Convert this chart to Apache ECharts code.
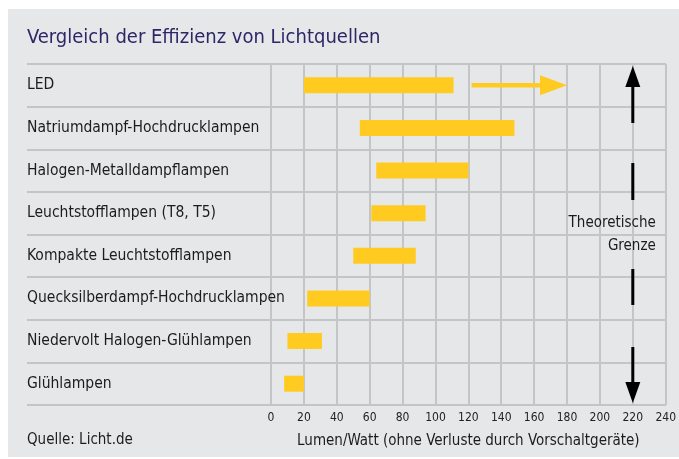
<!DOCTYPE html>
<html>
<head>
<meta charset="utf-8">
<script src="https://cdn.jsdelivr.net/npm/echarts@6/dist/echarts.min.js"></script>
<style>
  html, body { margin: 0; padding: 0; background: #ffffff; }
  #panel { position: absolute; left: 8px; top: 9px; width: 671px; height: 448px; background: #e6e7e9; }
  #chart { position: absolute; left: 0; top: 0; width: 679px; height: 459px; }
</style>
</head>
<body>
<div id="panel"></div>
<div id="chart"></div>
<script>
// ---- data ----
const categories = [
  'LED',
  'Natriumdampf-Hochdrucklampen',
  'Halogen-Metalldampflampen',
  'Leuchtstofflampen (T8, T5)',
  'Kompakte Leuchtstofflampen',
  'Quecksilberdampf-Hochdrucklampen',
  'Niedervolt Halogen-Glühlampen',
  'Glühlampen'
];
const lowValues  = [20, 54, 64, 61, 50, 22, 10, 8];
const highValues = [111, 148, 120, 94, 88, 60, 31, 20];
const ledTrend = [122, 180];          // LED arrow: from, to (lm/W)
const theoreticalLimit = 220;         // lm/W
const limitLabel = 'Theoretische\nGrenze';
const xMin = 0, xMax = 240, xStep = 20;
const titleText = 'Vergleich der Effizienz von Lichtquellen';
const sourceText = 'Quelle: Licht.de';
const axisName = 'Lumen/Watt (ohne Verluste durch Vorschaltgeräte)';

const lengths = highValues.map((h, i) => h - lowValues[i]);

const FONT = '"DejaVu Sans Condensed", "DejaVu Sans", sans-serif';
const YELLOW = '#ffcb21';
const GRIDC = '#c4c5c7';

const chart = echarts.init(document.getElementById('chart'), null, { renderer: 'canvas' });

chart.setOption({
  backgroundColor: 'transparent',
  animation: false,
  graphic: [
    { type: 'text', x: 27, y: 38, style: { text: titleText, font: '20px ' + FONT, fill: '#2b2868', align: 'left', verticalAlign: 'middle' } },
    { type: 'text', x: 27, y: 440, style: { text: sourceText, font: '15px ' + FONT, fill: '#1c1c1c', align: 'left', verticalAlign: 'middle' } }
  ],
  grid: [
    { left: 271, right: 13, top: 64, bottom: 54 },
    { left: 27, right: 13, top: 64, bottom: 54 }
  ],
  xAxis: [
    {
      gridIndex: 0, type: 'value', min: xMin, max: xMax, interval: xStep,
      axisLine: { show: false }, axisTick: { show: false },
      splitLine: { show: true, lineStyle: { color: GRIDC, width: 2 } },
      axisLabel: { margin: 7, fontSize: 12, fontFamily: FONT, color: '#222' },
      name: axisName, nameLocation: 'middle', nameGap: 29,
      nameTextStyle: { fontSize: 15, fontFamily: FONT, color: '#1c1c1c' }
    },
    { gridIndex: 1, type: 'value', min: 0, max: 1, show: false }
  ],
  yAxis: [
    {
      gridIndex: 0, type: 'category', data: categories, inverse: true,
      axisLine: { show: false }, axisTick: { show: false }, splitLine: { show: false },
      axisLabel: { align: 'left', margin: 244, fontSize: 15.5, fontFamily: FONT, color: '#1c1c1c' }
    },
    {
      gridIndex: 1, type: 'category', data: categories, inverse: true,
      axisLine: { show: false }, axisTick: { show: false }, axisLabel: { show: false },
      splitLine: { show: true, lineStyle: { color: GRIDC, width: 2 } }
    }
  ],
  series: [
    {
      type: 'bar', stack: 'range', xAxisIndex: 0, yAxisIndex: 0,
      data: lowValues, barWidth: 16, itemStyle: { color: 'transparent' }, silent: true
    },
    {
      type: 'bar', stack: 'range', xAxisIndex: 0, yAxisIndex: 0,
      data: lengths, barWidth: 16, itemStyle: { color: YELLOW }
    },
    {
      type: 'custom', xAxisIndex: 0, yAxisIndex: 0, z: 5,
      data: [[ledTrend[0], ledTrend[1], 0]],
      renderItem: function (params, api) {
        const s = api.coord([api.value(0), api.value(2)]);
        const e = api.coord([api.value(1), api.value(2)]);
        const headL = 27, headW = 10;
        return {
          type: 'group',
          children: [
            { type: 'line', shape: { x1: s[0], y1: s[1], x2: e[0] - headL + 1, y2: e[1] }, style: { stroke: YELLOW, lineWidth: 4.5 } },
            { type: 'polygon', shape: { points: [[e[0], e[1]], [e[0] - headL, e[1] - headW], [e[0] - headL, e[1] + headW]] }, style: { fill: YELLOW } }
          ]
        };
      }
    },
    {
      type: 'custom', xAxisIndex: 0, yAxisIndex: 0, z: 5,
      data: [[theoreticalLimit, 0, categories.length - 1]],
      renderItem: function (params, api) {
        const band = api.size([0, 1])[1];
        const t = api.coord([api.value(0), api.value(1)]);
        const b = api.coord([api.value(0), api.value(2)]);
        const x = t[0];
        const top = t[1] - band / 2 + 2;
        const bot = b[1] + band / 2 - 2;
        const headL = 21, headW = 7.5;
        const mid = (top + bot) / 2;
        return {
          type: 'group',
          children: [
            { type: 'polygon', shape: { points: [[x, top], [x - headW, top + headL], [x + headW, top + headL]] }, style: { fill: '#000' } },
            { type: 'line', shape: { x1: x, y1: top + headL - 1, x2: x, y2: top + headL + 117 }, style: { stroke: '#000', lineWidth: 3, lineDash: [37, 40] } },
            { type: 'polygon', shape: { points: [[x, bot], [x - headW, bot - headL], [x + headW, bot - headL]] }, style: { fill: '#000' } },
            { type: 'line', shape: { x1: x, y1: bot - headL + 1, x2: x, y2: bot - headL - 116 }, style: { stroke: '#000', lineWidth: 3, lineDash: [36, 42] } },
            { type: 'text', x: x + 23, y: mid, style: { text: limitLabel, font: '15px ' + FONT, fill: '#1c1c1c', align: 'right', verticalAlign: 'middle', lineHeight: 23 } }
          ]
        };
      }
    }
  ]
});
</script>
</body>
</html>
